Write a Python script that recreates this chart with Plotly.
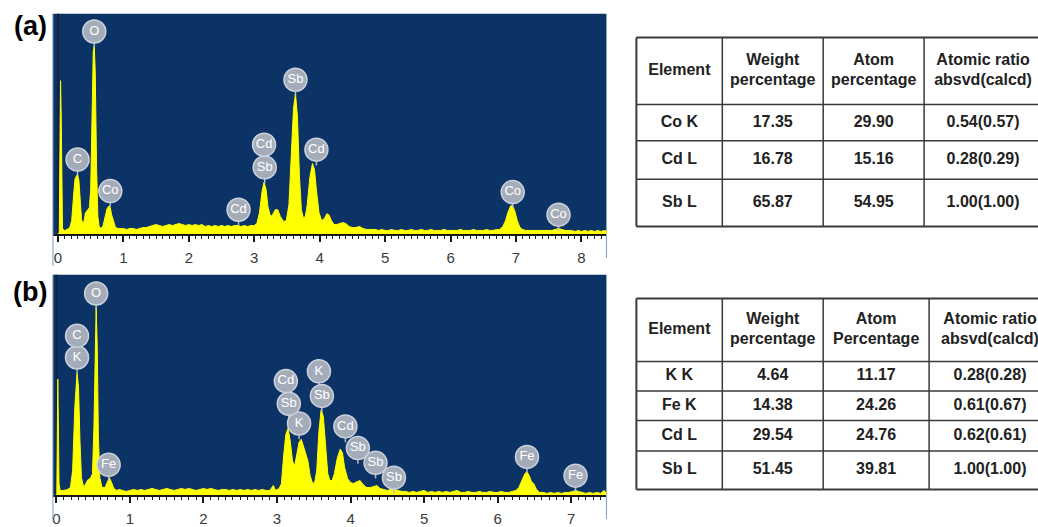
import numpy as np
import plotly.graph_objects as go

# ---------------- spectrum (a): energy (keV) vs counts ----------------
energy_a = [
    -0.08, 0.00, 0.02, 0.03, 0.04, 0.05, 0.06, 0.07, 0.10, 0.14, 0.18, 0.21, 0.24, 0.26,
    0.28, 0.30, 0.32, 0.34, 0.36, 0.38, 0.40, 0.42, 0.45, 0.48, 0.50, 0.52, 0.54, 0.555,
    0.57, 0.59, 0.61, 0.63, 0.66, 0.69, 0.72, 0.75, 0.78, 0.80, 0.82, 0.85, 0.88, 0.92,
    0.95, 1.00, 1.05, 1.10, 1.15, 1.20, 1.25, 1.30, 1.35, 1.40, 1.45, 1.50, 1.55, 1.60,
    1.65, 1.70, 1.75, 1.80, 1.85, 1.90, 1.95, 2.00, 2.05, 2.10, 2.15, 2.20, 2.25, 2.30,
    2.35, 2.40, 2.45, 2.50, 2.55, 2.60, 2.65, 2.70, 2.75, 2.80, 2.85, 2.90, 2.95, 3.00,
    3.04, 3.08, 3.12, 3.15, 3.18, 3.21, 3.25, 3.28, 3.32, 3.36, 3.40, 3.45, 3.49, 3.53,
    3.57, 3.60, 3.63, 3.66, 3.69, 3.72, 3.75, 3.78, 3.81, 3.85, 3.89, 3.92, 3.95, 3.99,
    4.03, 4.07, 4.11, 4.14, 4.18, 4.22, 4.26, 4.30, 4.35, 4.40, 4.45, 4.50, 4.55, 4.61,
    4.66, 4.72, 4.80, 4.85, 4.90, 4.95, 5.00, 5.05, 5.10, 5.15, 5.20, 5.25, 5.30, 5.35,
    5.40, 5.45, 5.50, 5.55, 5.60, 5.65, 5.70, 5.75, 5.80, 5.85, 5.90, 5.95, 6.00, 6.05,
    6.10, 6.15, 6.20, 6.25, 6.30, 6.35, 6.40, 6.45, 6.50, 6.55, 6.60, 6.65, 6.70, 6.75,
    6.80, 6.84, 6.88, 6.92, 6.95, 6.98, 7.02, 7.06, 7.10, 7.15, 7.20, 7.25, 7.30, 7.35,
    7.40, 7.45, 7.50, 7.55, 7.60, 7.65, 7.70, 7.75, 7.80, 7.85, 7.90, 7.95, 8.00, 8.05,
    8.10, 8.15, 8.20, 8.25, 8.30, 8.35, 8.40,
]
counts_a = [
    0, 0, 2, 100, 156, 120, 30, 6, 4, 5, 7, 14, 40, 56,
    59, 61, 55, 35, 16, 10, 14, 22, 25, 27, 45, 120, 186, 191,
    165, 70, 18, 8, 6, 9, 18, 26, 29, 27, 20, 12, 7, 6,
    6, 6, 5, 6, 6, 5, 6, 7, 7, 8, 9, 10, 9, 8,
    9, 10, 9, 10, 11, 10, 9, 10, 9, 10, 9, 10, 8, 9,
    8, 9, 8, 9, 8, 9, 8, 9, 9, 8, 9, 8, 9, 9,
    11, 22, 44, 53, 46, 28, 18, 20, 25, 25, 18, 13, 14, 30,
    80, 128, 143, 120, 60, 25, 17, 18, 30, 58, 72, 66, 45, 22,
    14, 16, 21, 20, 14, 10, 10, 11, 12, 11, 8, 7, 7, 8,
    6, 5, 5, 5, 4, 5, 4, 4, 5, 4, 4, 5, 4, 4,
    5, 4, 4, 5, 4, 4, 5, 4, 4, 4, 5, 4, 4, 4,
    4, 5, 4, 4, 4, 5, 4, 4, 4, 5, 4, 4, 5, 5,
    8, 14, 23, 29, 29, 24, 14, 7, 5, 4, 4, 4, 4, 4,
    4, 4, 4, 4, 5, 6, 5, 4, 4, 4, 3, 4, 3, 4,
    3, 4, 3, 4, 3, 4, 3,
]

# ---------------- spectrum (b) ----------------
energy_b = [
    -0.05, 0.00, 0.005, 0.012, 0.018, 0.025, 0.035, 0.05, 0.10, 0.15, 0.19, 0.22, 0.25,
    0.28, 0.30, 0.32, 0.34, 0.37, 0.40, 0.43, 0.46, 0.49, 0.51, 0.525, 0.54, 0.555, 0.57,
    0.59, 0.62, 0.66, 0.69, 0.72, 0.75, 0.78, 0.82, 0.85, 0.90, 0.95, 1.00, 1.05, 1.10,
    1.15, 1.20, 1.25, 1.30, 1.35, 1.40, 1.45, 1.50, 1.55, 1.60, 1.65, 1.70, 1.75, 1.80,
    1.85, 1.90, 1.95, 2.00, 2.05, 2.10, 2.15, 2.20, 2.25, 2.30, 2.35, 2.40, 2.45, 2.50,
    2.55, 2.60, 2.65, 2.70, 2.75, 2.80, 2.85, 2.90, 2.95, 2.98, 3.03, 3.06, 3.09, 3.12,
    3.15, 3.18, 3.21, 3.24, 3.27, 3.30, 3.33, 3.36, 3.39, 3.42, 3.45, 3.48, 3.51, 3.54,
    3.57, 3.60, 3.63, 3.66, 3.69, 3.72, 3.75, 3.78, 3.82, 3.86, 3.89, 3.92, 3.96, 4.00,
    4.04, 4.09, 4.13, 4.17, 4.22, 4.27, 4.32, 4.36, 4.40, 4.45, 4.50, 4.55, 4.59, 4.64,
    4.70, 4.75, 4.80, 4.85, 4.90, 4.95, 5.00, 5.05, 5.10, 5.15, 5.20, 5.25, 5.30, 5.35,
    5.40, 5.45, 5.50, 5.55, 5.60, 5.65, 5.70, 5.75, 5.80, 5.85, 5.90, 5.95, 6.00, 6.05,
    6.10, 6.15, 6.20, 6.25, 6.29, 6.33, 6.37, 6.40, 6.43, 6.46, 6.49, 6.53, 6.57, 6.62,
    6.67, 6.72, 6.77, 6.82, 6.87, 6.92, 6.97, 7.02, 7.06, 7.10, 7.15, 7.20, 7.25, 7.30,
    7.35, 7.40, 7.45, 7.48,
]
counts_b = [
    0, 0, 2, 80, 118, 80, 12, 5, 5, 6, 8, 25, 90,
    124, 110, 55, 18, 8, 12, 16, 17, 22, 70, 160, 191, 150, 60,
    18, 8, 8, 13, 18, 13, 7, 5, 6, 5, 4, 5, 6, 5,
    6, 5, 6, 7, 6, 5, 6, 7, 6, 5, 6, 7, 6, 7,
    6, 5, 6, 7, 6, 7, 6, 5, 6, 6, 5, 6, 5, 6,
    5, 6, 5, 6, 5, 6, 5, 5, 10, 5, 7, 12, 40, 62,
    68, 55, 35, 30, 42, 54, 57, 50, 43, 35, 20, 13, 12, 25,
    65, 87, 80, 50, 22, 15, 15, 22, 38, 47, 43, 28, 17, 13,
    12, 14, 15, 11, 8, 8, 9, 10, 7, 6, 5, 6, 7, 5,
    4, 4, 3, 4, 3, 4, 5, 3, 4, 3, 4, 3, 4, 3,
    4, 5, 3, 3, 4, 3, 3, 4, 3, 3, 4, 3, 3, 4,
    3, 3, 4, 5, 8, 16, 22, 24, 20, 14, 12, 6, 3, 3,
    2, 3, 2, 3, 2, 3, 3, 4, 5, 4, 3, 2, 3, 2,
    3, 2, 5, 2,
]

# element tags (symbol, line energy in keV)
tags_a = [("C", 0.30), ("O", 0.555), ("Co", 0.80), ("Cd", 2.76), ("Sb", 3.16), ("Cd", 3.15),
          ("Sb", 3.63), ("Cd", 3.95), ("Co", 6.95), ("Co", 7.65)]
tags_b = [("K", 0.28), ("C", 0.28), ("O", 0.54), ("Fe", 0.71), ("K", 3.30), ("Sb", 3.16),
          ("Cd", 3.12), ("Sb", 3.61), ("K", 3.57), ("Cd", 3.93), ("Sb", 4.10), ("Sb", 4.34),
          ("Sb", 4.59), ("Fe", 6.40), ("Fe", 7.06)]

# quantification tables
table_a_header = ["Element", "Weight<br>percentage", "Atom<br>percentage", "Atomic ratio<br>absvd(calcd)"]
table_a_element = ["Co K", "Cd L", "Sb L"]
table_a_weight = ["17.35", "16.78", "65.87"]
table_a_atom = ["29.90", "15.16", "54.95"]
table_a_ratio = ["0.54(0.57)", "0.28(0.29)", "1.00(1.00)"]

table_b_header = ["Element", "Weight<br>percentage", "Atom<br>Percentage", "Atomic ratio<br>absvd(calcd)"]
table_b_element = ["K K", "Fe K", "Cd L", "Sb L"]
table_b_weight = ["4.64", "14.38", "29.54", "51.45"]
table_b_atom = ["11.17", "24.26", "24.76", "39.81"]
table_b_ratio = ["0.28(0.28)", "0.61(0.67)", "0.62(0.61)", "1.00(1.00)"]

# ---------------- layout constants ----------------
W, H = 1038, 527
NAVY = "#0b3366"
YELLOW = "#ffff00"
TAG_FILL = "#a4acba"
FONT = "Arial, Liberation Sans, sans-serif"

# tag centre heights (count units) in drawing order
tag_levels_a = [76, 206, 44, 25, 68, 91, 157, 86, 43, 20]
tag_levels_b = [140, 162, 205, 31, 73, 93, 116, 101, 126, 70, 48, 33, 18, 39, 20]

# table grid lines (pixel units of the table axis)
grid_a = dict(cols=[636, 722, 823, 924, 1042], rows=[38, 106, 143, 182, 230])
grid_b = dict(cols=[636, 722, 823, 929, 1051], rows=[303, 367, 397, 427, 458, 497])


def px_x(p):
    return p / W


def px_y(p):
    return (H - p) / H


fig = go.Figure()


def add_spectrum(energy, counts, tags, levels, xa, ya):
    fig.add_trace(go.Scatter(
        x=energy, y=counts, mode="lines", fill="tozeroy", fillcolor=YELLOW,
        line=dict(color=YELLOW, width=1), xaxis=xa, yaxis=ya, hoverinfo="skip",
        showlegend=False))
    sx, sy = [], []
    for (name, e), lv in zip(tags, levels):
        sx += [e, e, None]
        sy += [lv, lv - 16, None]
    fig.add_trace(go.Scatter(
        x=sx, y=sy, mode="lines", line=dict(color="#b4bcc8", width=1.5),
        xaxis=xa, yaxis=ya, hoverinfo="skip", showlegend=False))
    fig.add_trace(go.Scatter(
        x=[e for _, e in tags], y=levels, mode="markers+text",
        text=[n for n, _ in tags], textposition="middle center",
        textfont=dict(family=FONT, size=13, color="white"),
        marker=dict(size=23, color=TAG_FILL, line=dict(color="#cdd3dc", width=1.5)),
        xaxis=xa, yaxis=ya, hoverinfo="skip", showlegend=False, cliponaxis=False))


add_spectrum(energy_a, counts_a, tags_a, tag_levels_a, "x", "y")
add_spectrum(energy_b, counts_b, tags_b, tag_levels_b, "x2", "y2")

shapes = []
for xr, yr in (("x", "y"), ("x2", "y2")):
    shapes.append(dict(type="rect", xref=f"{xr} domain", yref=f"{yr} domain",
                       x0=0, x1=1, y0=0, y1=1, fillcolor=NAVY, line=dict(width=0),
                       layer="below"))
    shapes.append(dict(type="line", xref=xr, yref=f"{yr} domain", x0=0, x1=0, y0=0, y1=1,
                       line=dict(color="#14243a", width=2), layer="below"))

# thin frame edges of the spectrum windows
for x, y0, y1 in ((52, 14, 270), (52, 279, 527), (606, 238, 262), (606, 503, 527)):
    shapes.append(dict(type="line", xref="paper", yref="paper", x0=px_x(x), x1=px_x(x),
                       y0=px_y(y0), y1=px_y(y1), line=dict(color="#7d9bc4", width=1)))


def add_table(grid, header, columns):
    cols, rows = grid["cols"], grid["rows"]
    # outer frame and grid
    for i, r in enumerate(rows):
        w = 2 if i in (0, len(rows) - 1) else 1.5
        shapes.append(dict(type="line", xref="x3", yref="y3", x0=cols[0], x1=cols[-1],
                           y0=r, y1=r, line=dict(color="#3a3a3a", width=w)))
    for i, c in enumerate(cols):
        w = 2 if i == 0 else 1.5
        shapes.append(dict(type="line", xref="x3", yref="y3", x0=c, x1=c,
                           y0=rows[0], y1=rows[-1], line=dict(color="#3a3a3a", width=w)))
    xs, ys, ts = [], [], []
    for j, h in enumerate(header):
        xs.append((cols[j] + cols[j + 1]) / 2)
        ys.append((rows[0] + rows[1]) / 2)
        ts.append(h)
    for j, col in enumerate(columns):
        for i, v in enumerate(col):
            xs.append((cols[j] + cols[j + 1]) / 2)
            ys.append((rows[i + 1] + rows[i + 2]) / 2)
            ts.append(v)
    fig.add_trace(go.Scatter(
        x=xs, y=ys, text=ts, mode="text", textposition="middle center",
        textfont=dict(family=FONT, size=16, color="#222222"),
        xaxis="x3", yaxis="y3", hoverinfo="skip", showlegend=False))


add_table(grid_a, [f"<b>{h}</b>" for h in table_a_header],
          [[f"<b>{v}</b>" for v in c] for c in
           (table_a_element, table_a_weight, table_a_atom, table_a_ratio)])
add_table(grid_b, [f"<b>{h}</b>" for h in table_b_header],
          [[f"<b>{v}</b>" for v in c] for c in
           (table_b_element, table_b_weight, table_b_atom, table_b_ratio)])

xaxis_style = dict(
    showline=True, linecolor="#1a1a1a", linewidth=2, mirror=False,
    ticks="outside", ticklen=6, tickwidth=1.5, tickcolor="#1a1a1a", dtick=1, tick0=0,
    showgrid=False, zeroline=False, ticklabelstandoff=3,
    tickfont=dict(family=FONT, size=15, color="#3a3a3a"),
    minor=dict(dtick=0.1, tick0=0, ticks="outside", ticklen=3, tickwidth=1,
               tickcolor="#1a1a1a", showgrid=False),
    fixedrange=True,
)

fig.update_layout(
    width=W, height=H, margin=dict(l=0, r=0, t=0, b=0),
    paper_bgcolor="white", plot_bgcolor="white",
    xaxis=dict(domain=[px_x(52), px_x(606)], range=[-0.0763, 8.382], anchor="y", **xaxis_style),
    yaxis=dict(domain=[px_y(238), px_y(14)], range=[0, 224], visible=False, fixedrange=True),
    xaxis2=dict(domain=[px_x(52), px_x(606)], range=[-0.0476, 7.48], anchor="y2", **xaxis_style),
    yaxis2=dict(domain=[px_y(503), px_y(279)], range=[0, 224], visible=False, fixedrange=True),
    xaxis3=dict(domain=[px_x(620), 1], range=[620, 1038], visible=False, anchor="y3", fixedrange=True),
    yaxis3=dict(domain=[0, 1], range=[527, 0], visible=False, fixedrange=True),
    shapes=shapes,
    annotations=[
        dict(text="<b>(a)</b>", x=px_x(30), y=px_y(26), xref="paper", yref="paper",
             xanchor="center", yanchor="middle", showarrow=False,
             font=dict(family=FONT, size=27, color="black")),
        dict(text="<b>(b)</b>", x=px_x(29), y=px_y(296), xref="paper", yref="paper",
             xanchor="center", yanchor="middle", showarrow=False,
             font=dict(family=FONT, size=27, color="black")),
    ],
)

fig.write_html("out.html")
